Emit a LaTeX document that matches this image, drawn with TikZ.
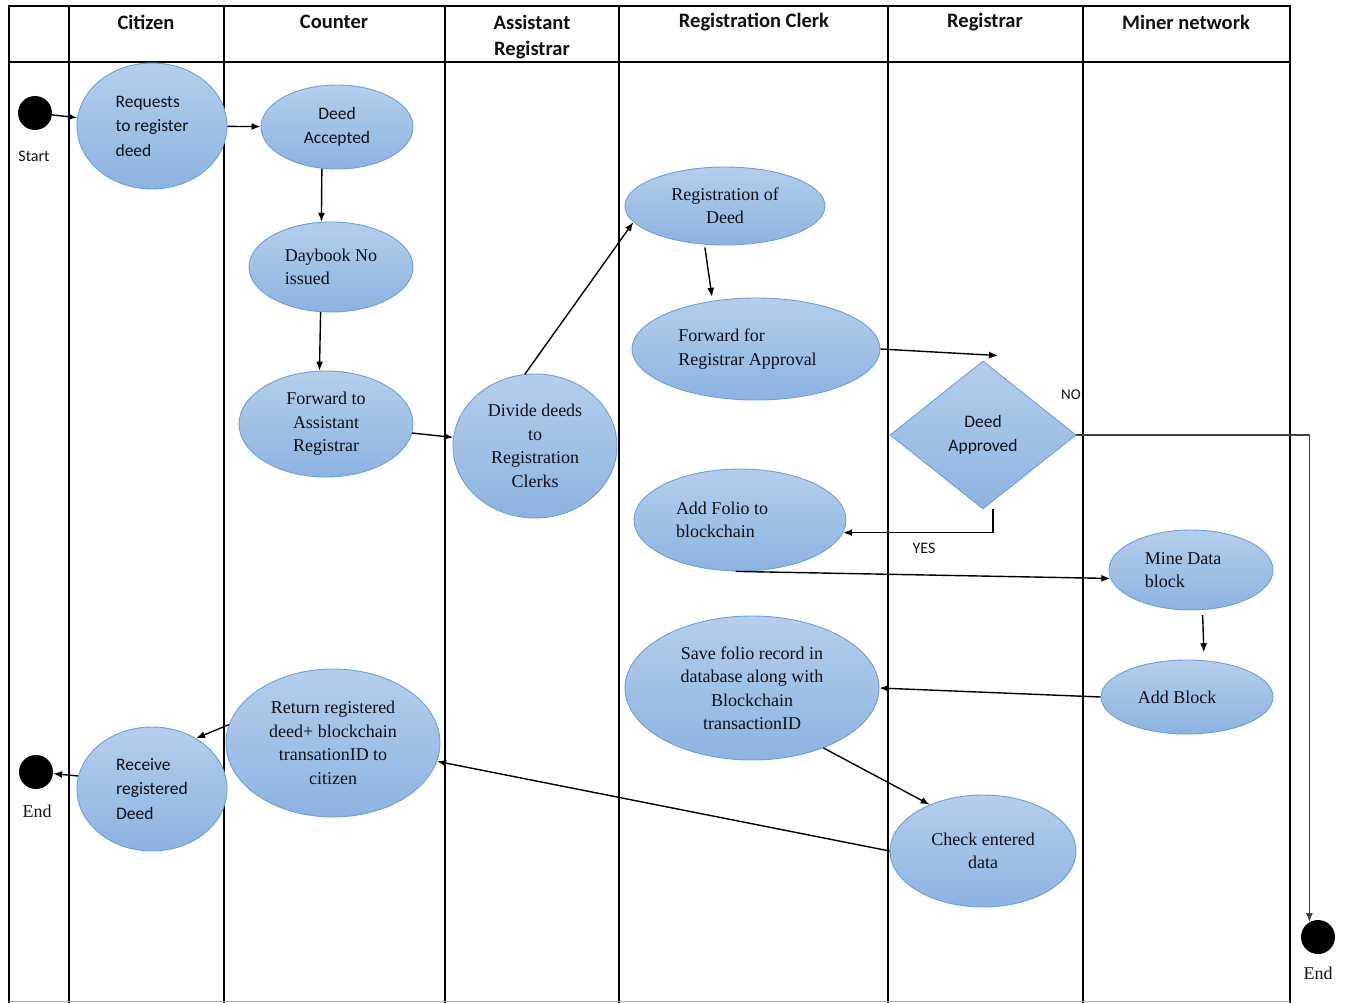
\documentclass[tikz,border=0pt]{standalone}
\usepackage{fontspec}
\setmainfont{Carlito}
\newfontfamily\timesf{Liberation Serif}
\usetikzlibrary{shapes.geometric,arrows.meta,calc}
\definecolor{actTop}{HTML}{B5CEEB}
\definecolor{actBot}{HTML}{8DB3E2}
\definecolor{actEdge}{HTML}{6E9FD6}
\definecolor{ink}{HTML}{101018}
\begin{document}
\begin{tikzpicture}[x=1pt,y=-1pt,
  act/.style={ellipse, draw=actEdge, line width=0.9pt, top color=actTop, bottom color=actBot, inner sep=0pt, text=ink},
  decide/.style={diamond, draw=actEdge, line width=0.9pt, top color=actTop, bottom color=actBot, inner sep=0pt, text=ink},
  sanstxt/.style={font=\fontsize{17.5}{24.5}\selectfont},
  seriftxt/.style={font=\timesf\fontsize{18}{23.5}\selectfont},
  lane/.style={line width=1.5pt},
  flow/.style={line width=1.4pt, -{Latex[length=9pt,width=7pt]}},
  dot/.style={circle, fill=black, minimum size=34pt, inner sep=0pt},
  hdr/.style={font=\bfseries\fontsize{20.5}{26}\selectfont, align=center, text=ink},
  tag/.style={font=\fontsize{16}{18}\selectfont, text=ink, inner sep=0pt},
  endtag/.style={font=\timesf\fontsize{18}{20}\selectfont, text=ink, inner sep=0pt},
]
\useasboundingbox (0,0) rectangle (1347,1003);
\fill[white] (0,0) rectangle (1347,1003);

% swimlane grid
\draw[lane] (9,1003) -- (9,6) -- (1290,6) -- (1290,1003);
\draw[lane] (9,62) -- (1290,62);
\foreach \lx in {69,224,445,619,888,1083}
  \draw[lane] (\lx,6) -- (\lx,1003);
\draw[black!35, line width=0.8pt] (9,1001) -- (1290,1001);

% lane headings
\node[hdr] (hCitizen) at (146,22) {Citizen};
\node[hdr] (hCounter) at (334,22) {Counter};
\node[hdr] (hAsst) at (532,37) {Assistant\\Registrar};
\node[hdr] (hClerk) at (754,22) {Registration Clerk};
\node[hdr] (hRegistrar) at (985,22) {Registrar};
\node[hdr] (hMiner) at (1186,22) {Miner network};

% start and end points
\node[dot] (start) at (35,113) {};
\node[tag] (startlbl) at (34,156) {Start};
\node[dot] (endL) at (36,772) {};
\node[endtag] (endLlbl) at (37,811) {End};
\node[dot] (endR) at (1318,937) {};
\node[endtag] (endRlbl) at (1318,973) {End};

% activities (a trailing \hspace* nudges a left-aligned block to the left)
\node[act, sanstxt, align=left, minimum width=150pt, minimum height=126pt] (req) at (152,126) {Requests\\to register\hspace*{10pt}\\deed};
\node[act, sanstxt, align=center, minimum width=152pt, minimum height=84pt] (acc) at (337,127) {Deed\\Accepted};
\node[act, seriftxt, align=left, minimum width=164pt, minimum height=90pt] (day) at (331,267) {Daybook No\\issued};
\node[act, seriftxt, align=center, minimum width=174pt, minimum height=106pt] (fwd) at (326,424) {Forward to\\Assistant\\Registrar};
\node[act, seriftxt, align=center, minimum width=164pt, minimum height=144pt] (div) at (535,446) {Divide deeds\\to\\Registration\\Clerks};
\node[act, seriftxt, align=center, minimum width=200pt, minimum height=78pt] (reg) at (725,206) {Registration of\\Deed};
\node[act, seriftxt, align=left, minimum width=248pt, minimum height=102pt] (fwa) at (756,349) {Forward for\\Registrar Approval\hspace*{17pt}};
\node[decide, sanstxt, align=center, minimum width=186pt, minimum height=148pt] (dia) at (983,435) {Deed\\Approved};
\node[act, seriftxt, align=left, minimum width=212pt, minimum height=102pt] (fol) at (740,520) {Add Folio to\hspace*{36pt}\\blockchain};
\node[act, seriftxt, align=left, minimum width=164pt, minimum height=80pt] (mine) at (1191,570) {Mine Data\hspace*{16pt}\\block};
\node[act, seriftxt, align=center, minimum width=172pt, minimum height=74pt] (blk) at (1187,697) {Add Block\hspace*{20pt}};
\node[act, seriftxt, align=center, minimum width=254pt, minimum height=144pt] (save) at (752,688) {Save folio record in\\database along with\\Blockchain\\transactionID};
\node[act, seriftxt, align=center, minimum width=186pt, minimum height=112pt] (chk) at (983,851) {Check entered\\data};
\node[act, seriftxt, align=center, minimum width=214pt, minimum height=148pt] (ret) at (333,743) {Return registered\\deed+ blockchain\\transationID to\\citizen};
\node[act, sanstxt, align=left, minimum width=150pt, minimum height=124pt] (rec) at (152,789) {Receive\\registered\hspace*{10pt}\\Deed};

% decision labels
\node[tag, font=\fontsize{15}{17}\selectfont] (nolbl) at (1071,395) {NO};
\node[tag] (yeslbl) at (924,548) {YES};

% flow
\draw[flow] (start) -- (req);
\draw[flow] (req) -- (acc);
\draw[flow] (acc.250) -- (day.102);
\draw[flow] (day.257) -- (fwd.97);
\draw[flow] (fwd) -- (div);
\draw[flow] (div.98) -- (reg.190);
\draw[flow, shorten <=3pt, shorten >=4pt] (reg.242) -- (fwa.132);
\draw[flow] (fwa.east) -- ($(dia.north)+(15,-5)$);
\draw[flow, black!75] (dia.east) -| (endR.120);
\draw[flow] ($(dia.south)+(10,0)$) |- (fol.-7);
\draw[flow] (fol.265) -- (mine.186);
\draw[flow, shorten <=5pt, shorten >=8pt] (mine.286) -- (blk.65);
\draw[flow] (blk.west) -- (save.east);
\draw[flow] (save.-40) -- (chk.139);
\draw[flow] (chk.west) -- (ret.-10);
\draw[flow] (ret.170) -- (rec.49);
\draw[flow] (rec.170) -- (endL);
\end{tikzpicture}
\end{document}
